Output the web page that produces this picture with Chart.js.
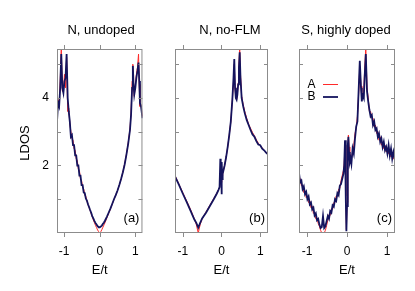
<!DOCTYPE html>
<html>
<head>
<meta charset="utf-8">
<script src="https://cdn.jsdelivr.net/npm/chart.js@4.4.1/dist/chart.umd.min.js"></script>
<style>
  body { margin: 0; background: #fff; }
  #wrap { position: relative; width: 415px; height: 291px; }
  canvas { position: absolute; top: 0; }
</style>
</head>
<body>
<div id="wrap">
  <canvas id="pa" width="150" height="291" style="left:0px"></canvas>
  <canvas id="pb" width="125" height="291" style="left:150px"></canvas>
  <canvas id="pc" width="140" height="291" style="left:275px"></canvas>
</div>
<script>
// panel titles / tags
const titles = ['N, undoped', 'N, no-FLM', 'S, highly doped'];
const tags = ['(a)', '(b)', '(c)'];
const seriesNames = ['A', 'B'];

// tick values
const xTicks = [-1, 0, 1];
const yTicks = [1, 2, 3, 4, 5];
const yLabelled = [2, 4];

// (a) N, undoped
const energyA = [-1.2,-1.17,-1.14,-1.11,-1.08,-1.05,-1.02,-0.99,-0.96,-0.93,-0.9,-0.87,-0.84,-0.81,-0.78,-0.75,-0.72,-0.69,-0.66,-0.63,-0.6,-0.57,-0.54,-0.51,-0.48,-0.45,-0.42,-0.39,-0.36,-0.33,-0.3,-0.27,-0.24,-0.21,-0.18,-0.15,-0.12,-0.09,-0.06,-0.03,0,0.03,0.06,0.09,0.12,0.15,0.2,0.25,0.3,0.35,0.4,0.45,0.5,0.55,0.6,0.65,0.7,0.75,0.8,0.85,0.88,0.91,0.93,0.95,0.97,1.0,1.03,1.06,1.09,1.11,1.13,1.16,1.2];
const ldosA_a = [3.4,3.95,3.8,4.5,5.5,4.2,4.2,4.7,4.3,5.2,3.6,3.7,3.25,3.0,2.8,2.75,2.5,2.45,2.2,2.15,1.9,1.85,1.6,1.55,1.35,1.3,1.12,1.08,0.95,0.85,0.76,0.67,0.57,0.48,0.39,0.31,0.23,0.16,0.09,0.04,0.0,0.04,0.1,0.17,0.24,0.31,0.45,0.58,0.71,0.85,0.99,1.12,1.26,1.42,1.6,1.8,2.05,2.33,2.67,3.08,3.55,4.5,5.0,4.4,4.05,4.4,4.7,4.9,5.3,4.4,3.75,3.8,3.45];
const ldosB_a = [3.3,3.85,3.75,4.3,5.3,4.3,4.15,4.5,4.6,5.3,4.0,3.6,3.3,2.85,2.9,2.6,2.6,2.3,2.3,2.0,2.0,1.7,1.7,1.42,1.42,1.2,1.18,1.02,0.96,0.85,0.77,0.68,0.6,0.5,0.43,0.36,0.3,0.25,0.2,0.17,0.17,0.19,0.22,0.27,0.31,0.37,0.48,0.6,0.72,0.86,1.0,1.12,1.26,1.42,1.6,1.8,2.03,2.32,2.65,3.05,3.5,4.3,4.95,4.4,4.1,4.3,4.6,4.8,5.05,4.5,3.85,3.75,3.4];

// (b) N, no-FLM
const energyB = [-1.2,-1.1,-1.0,-0.9,-0.8,-0.7,-0.65,-0.6,-0.55,-0.5,-0.4,-0.3,-0.2,-0.12,-0.08,-0.05,-0.03,-0.02,-0.01,0,0.01,0.02,0.03,0.05,0.08,0.12,0.16,0.2,0.24,0.28,0.31,0.33,0.35,0.37,0.39,0.41,0.43,0.45,0.47,0.49,0.52,0.56,0.6,0.65,0.7,0.75,0.8,0.85,0.9,0.95,1.0,1.05,1.1,1.15,1.2];
const ldosA_b = [1.7,1.45,1.2,0.95,0.7,0.42,0.25,0.0,0.25,0.42,0.62,0.82,1.02,1.18,1.28,1.35,1.6,1.45,1.7,1.5,1.8,1.7,1.75,1.85,2.0,2.25,2.55,2.9,3.3,3.95,4.5,5.0,4.3,4.0,3.95,4.1,4.45,5.0,5.5,4.7,4.05,3.8,3.6,3.4,3.22,3.1,2.98,2.88,2.76,2.66,2.6,2.52,2.45,2.4,2.33];
const ldosB_b = [1.68,1.43,1.17,0.92,0.66,0.4,0.3,0.16,0.3,0.43,0.6,0.8,1.0,1.17,1.27,1.36,2.2,1.5,1.9,1.15,2.1,1.6,1.75,1.85,2.0,2.25,2.55,2.9,3.3,3.95,4.6,5.15,4.3,4.0,3.95,4.1,4.4,4.9,5.35,4.6,4.0,3.75,3.55,3.35,3.2,3.05,2.92,2.85,2.72,2.62,2.6,2.5,2.45,2.38,2.33];

// (c) S, highly doped
const energyC = [-1.2,-1.17,-1.14,-1.11,-1.08,-1.05,-1.02,-0.99,-0.96,-0.93,-0.9,-0.87,-0.84,-0.81,-0.78,-0.75,-0.72,-0.69,-0.66,-0.63,-0.6,-0.57,-0.54,-0.51,-0.48,-0.45,-0.42,-0.39,-0.36,-0.33,-0.3,-0.27,-0.24,-0.21,-0.18,-0.15,-0.12,-0.09,-0.07,-0.05,-0.03,-0.015,0,0.02,0.035,0.05,0.07,0.09,0.11,0.14,0.17,0.2,0.23,0.26,0.29,0.32,0.35,0.37,0.39,0.42,0.44,0.47,0.5,0.53,0.56,0.59,0.62,0.65,0.68,0.71,0.74,0.77,0.8,0.83,0.86,0.89,0.92,0.95,0.98,1.01,1.04,1.07,1.1,1.13,1.16,1.2];
const ldosA_c = [1.65,1.6,1.4,1.42,1.2,1.25,1.05,1.1,0.9,0.95,0.75,0.8,0.58,0.62,0.42,0.45,0.28,0.2,0.08,0.0,0.0,0.0,0.08,0.22,0.38,0.55,0.52,0.72,0.7,0.9,0.9,1.1,1.08,1.3,1.32,1.55,1.7,1.85,2.05,2.6,1.1,0.1,0.9,2.5,2.9,2.55,2.2,2.3,2.2,2.4,2.6,2.95,3.1,3.45,4.1,4.95,4.35,4.0,4.0,4.2,4.8,5.5,4.3,4.0,3.6,3.6,3.4,3.4,3.15,3.2,2.95,3.0,2.75,2.85,2.6,2.7,2.5,2.6,2.4,2.5,2.35,2.45,2.25,2.4,2.2,2.2];
const ldosB_c = [1.78,1.5,1.55,1.3,1.38,1.15,1.22,1.0,1.08,0.85,0.9,0.7,0.75,0.52,0.58,0.38,0.42,0.25,0.15,0.18,0.5,0.15,0.2,0.35,0.5,0.42,0.65,0.6,0.82,0.78,1.0,0.95,1.18,1.12,1.4,1.45,1.6,1.75,2.0,2.75,1.0,0.05,0.8,2.6,2.85,2.4,2.1,2.2,2.05,2.5,2.35,2.8,3.15,3.3,4.2,5.1,4.3,3.9,4.1,4.0,4.6,5.3,4.2,3.9,3.65,3.45,3.5,3.2,3.3,3.05,3.1,2.85,2.95,2.7,2.8,2.55,2.7,2.45,2.55,2.35,2.6,2.3,2.5,2.2,2.4,2.15];

const colorA = '#ff2a2a';
const colorB = '#14145e';
const frameColor = '#8c8c8c';
const fontFamily = "'Liberation Sans', Arial, sans-serif";

Chart.defaults.font.family = fontFamily;
Chart.defaults.color = '#000';

function toPoints(energy, vals) {
  return energy.map((e, i) => ({ x: e, y: vals[i] }));
}

function decor(title, tag, lay) {
  return {
    id: 'decor',
    afterDraw(chart) {
      const ctx = chart.ctx;
      const a = chart.chartArea;
      const xs = chart.scales.x, ys = chart.scales.y;
      ctx.save();
      ctx.strokeStyle = frameColor;
      ctx.lineWidth = 1;
      ctx.strokeRect(a.left + 0.5, a.top + 0.5, a.right - a.left - 1, a.bottom - a.top - 1);
      ctx.beginPath();
      xTicks.forEach(v => {
        const px = Math.round(xs.getPixelForValue(v)) + 0.5;
        ctx.moveTo(px, a.bottom); ctx.lineTo(px, a.bottom + 4);
        ctx.moveTo(px, a.top); ctx.lineTo(px, a.top - 4);
      });
      yTicks.forEach(v => {
        const py = Math.round(ys.getPixelForValue(v)) + 0.5;
        ctx.moveTo(a.left, py); ctx.lineTo(a.left + 4, py);
        ctx.moveTo(a.right, py); ctx.lineTo(a.right - 4, py);
      });
      ctx.stroke();

      ctx.fillStyle = '#000';
      ctx.font = '13px ' + fontFamily;
      ctx.textAlign = 'center';
      ctx.textBaseline = 'middle';
      ctx.fillText(title, lay.titleX, 30);
      ctx.fillText('E/t', (a.left + a.right) / 2, 270);
      ctx.textAlign = 'right';
      ctx.fillText(tag, a.right - 3, 218);

      if (lay.legend) {
        ctx.font = '12px ' + fontFamily;
        ctx.textAlign = 'center';
        [colorA, colorB].forEach((c, i) => {
          const yy = 84.5 + i * 12.5;
          ctx.fillStyle = '#000';
          ctx.fillText(seriesNames[i], 36.5, yy);
          ctx.strokeStyle = c;
          ctx.lineWidth = i === 0 ? 1 : 1.8;
          ctx.beginPath(); ctx.moveTo(48, yy); ctx.lineTo(63, yy); ctx.stroke();
        });
      }
      if (lay.ylabel) {
        ctx.font = '13px ' + fontFamily;
        ctx.fillStyle = '#000';
        ctx.translate(25, 143);
        ctx.rotate(-Math.PI / 2);
        ctx.textAlign = 'center';
        ctx.fillText('LDOS', 0, 0);
      }
      ctx.restore();
    }
  };
}

function makePanel(id, energy, valsA, valsB, idx, lay) {
  const ctx = document.getElementById(id).getContext('2d');
  return new Chart(ctx, {
    type: 'line',
    data: {
      datasets: [
        { label: seriesNames[0], data: toPoints(energy, valsA), borderColor: colorA, borderWidth: 1, order: 2 },
        { label: seriesNames[1], data: toPoints(energy, valsB), borderColor: colorB, borderWidth: 1.8, order: 1 }
      ]
    },
    options: {
      responsive: false,
      animation: false,
      events: [],
      layout: { padding: { top: 49, right: lay.padRight, left: 0, bottom: 0 } },
      elements: { point: { radius: 0 }, line: { tension: 0, fill: false } },
      plugins: { legend: { display: false }, tooltip: { enabled: false } },
      scales: {
        x: {
          type: 'linear', min: -1.2, max: 1.2,
          grid: { display: false, drawTicks: false },
          border: { display: false },
          afterBuildTicks: s => { s.ticks = xTicks.map(v => ({ value: v })); },
          afterFit: s => { s.height = 58; },
          ticks: { padding: 11, font: { size: 12 }, maxRotation: 0, autoSkip: false }
        },
        y: {
          type: 'linear', min: 0, max: 5.45,
          grid: { display: false, drawTicks: false },
          border: { display: false },
          afterBuildTicks: s => { s.ticks = yTicks.map(v => ({ value: v })); },
          afterFit: s => { s.width = lay.yWidth; },
          ticks: {
            display: lay.ylabel, padding: 8, font: { size: 12 }, autoSkip: false,
            callback: v => yLabelled.includes(v) ? String(v) : ''
          }
        }
      }
    },
    plugins: [decor(titles[idx], tags[idx], lay)]
  });
}

makePanel('pa', energyA, ldosA_a, ldosB_a, 0, { yWidth: 57, padRight: 4, titleX: 101, ylabel: true });
makePanel('pb', energyB, ldosA_b, ldosB_b, 1, { yWidth: 25, padRight: 5, titleX: 80, ylabel: false });
makePanel('pc', energyC, ldosA_c, ldosB_c, 2, { yWidth: 24, padRight: 20, titleX: 71, ylabel: false, legend: true });
</script>
</body>
</html>
